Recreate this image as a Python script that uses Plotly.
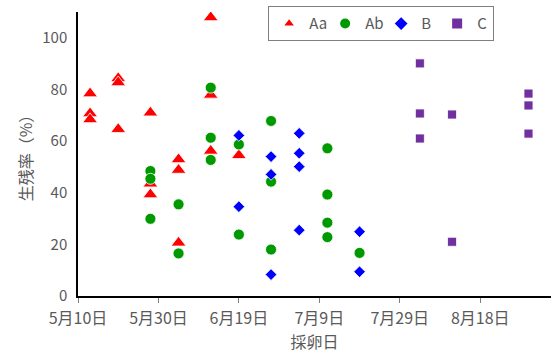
import datetime as dt
import plotly.graph_objects as go

base = dt.date(2021, 5, 10)

# Aa (red triangles)
aa_days = [3, 3, 3, 10, 10, 10, 18, 18, 18, 25, 25, 25, 33, 33, 33, 40]
aa_vals = [78.4, 70.7, 68.4, 84.3, 82.7, 64.6, 71.0, 43.5, 39.3, 52.9, 48.8, 20.6, 107.9, 77.9, 56.2, 54.5]
# Ab (green circles)
ab_days = [18, 18, 18, 25, 25, 33, 33, 33, 40, 40, 48, 48, 48, 62, 62, 62, 62, 70]
ab_vals = [48.4, 45.4, 29.9, 35.5, 16.5, 80.7, 61.3, 52.7, 58.7, 23.8, 67.8, 44.3, 18.0, 57.2, 39.3, 28.4, 22.8, 16.7]
# B (blue diamonds)
b_days = [40, 40, 48, 48, 48, 55, 55, 55, 55, 70, 70]
b_vals = [62.2, 34.6, 54.0, 47.1, 8.3, 63.0, 55.3, 50.1, 25.5, 24.9, 9.4]
# C (purple squares)
c_days = [85, 85, 85, 93, 93, 112, 112, 112]
c_vals = [90.1, 70.7, 61.0, 70.3, 21.0, 78.4, 73.8, 62.9]

def to_dates(days):
    return [base + dt.timedelta(days=d) for d in days]

font_family = "Noto Sans CJK JP, Noto Sans, sans-serif"
grey = "#595959"

fig = go.Figure()
series = [
    ("Aa", aa_days, aa_vals, "triangle-up", "#FF0000", 13),
    ("Ab", ab_days, ab_vals, "circle", "#009900", 11),
    ("B", b_days, b_vals, "diamond", "#0000FF", 9),
    ("C", c_days, c_vals, "square", "#7030A0", 9),
]
for name, d, v, sym, col, sz in series:
    fig.add_trace(go.Scatter(
        x=to_dates(d), y=v, mode="markers", name=name,
        marker=dict(symbol=sym, color=col, size=sz, line=dict(color="white", width=0.8)),
    ))

x_end = dt.datetime(2021, 5, 10) + dt.timedelta(days=117.6)

fig.update_layout(
    width=553, height=354,
    margin=dict(l=78, r=2, t=12, b=58),
    paper_bgcolor="white", plot_bgcolor="white",
    font=dict(family=font_family, size=16, color=grey),
    showlegend=True,
    legend=dict(
        orientation="h", x=0.402, xanchor="left", y=1.02, yanchor="top",
        bordercolor="#7f7f7f", borderwidth=1, bgcolor="white",
        font=dict(size=15, color=grey), itemsizing="constant",
        entrywidth=11, entrywidthmode="pixels",
        tracegroupgap=0,
    ),
)
fig.update_xaxes(
    type="date", automargin=False,
    range=[dt.datetime(2021, 5, 10), x_end],
    tick0="2021-05-10", dtick=20 * 86400000,
    tickformat="%-m月%-d日",
    ticks="outside", ticklen=5, tickcolor="#7f7f7f",
    showline=True, linecolor="black", linewidth=1.5,
    showgrid=False, zeroline=False,
    tickfont=dict(size=16, color=grey),
    ticklabelstandoff=2,
    title=dict(text="採卵日", font=dict(size=16, color=grey), standoff=2),
)
fig.update_yaxes(
    range=[0, 110], tick0=0, dtick=20, automargin=False,
    ticks="", showline=True, linecolor="black", linewidth=1.5,
    showgrid=False, zeroline=False,
    tickfont=dict(size=15, color=grey),
    ticklabelstandoff=6,
    title=dict(text="生残率（%）", font=dict(size=16, color=grey), standoff=6),
)

fig.write_html(
    "out.html",
    config={"displayModeBar": False},
    post_script="document.body.style.margin='0';document.body.style.overflow='hidden';",
)
